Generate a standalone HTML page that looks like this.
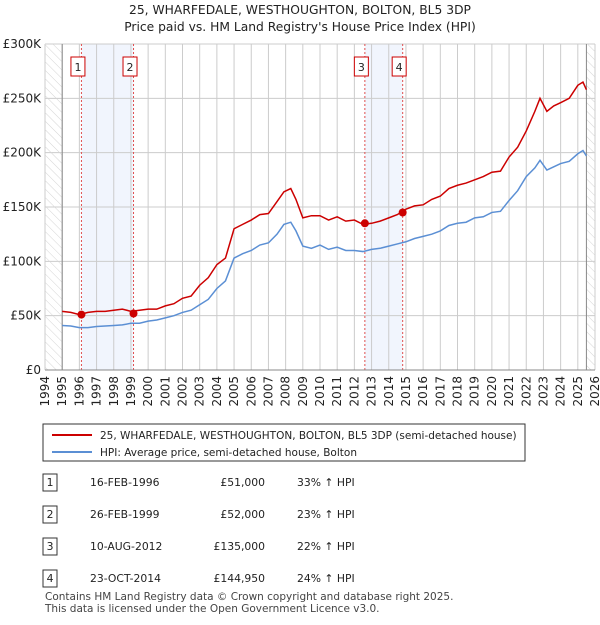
<!DOCTYPE html>
<html><head><meta charset="utf-8"><style>
body{margin:0;background:#fff;font-family:"Liberation Sans","DejaVu Sans",sans-serif;}
svg text{font-family:"DejaVu Sans","Liberation Sans",sans-serif;}
</style></head><body>
<svg id="c" width="600" height="620" xmlns="http://www.w3.org/2000/svg">
<defs><pattern id="h" width="6" height="6" patternUnits="userSpaceOnUse" patternTransform="rotate(-45)"><line x1="0" y1="0" x2="0" y2="6" stroke="#d4d4d4" stroke-width="1"/></pattern></defs>
<text x="300" y="14" text-anchor="middle" font-size="12.3" fill="#222">25, WHARFEDALE, WESTHOUGHTON, BOLTON, BL5 3DP</text>
<text x="300" y="31" text-anchor="middle" font-size="12.3" fill="#222">Price paid vs. HM Land Registry's House Price Index (HPI)</text>
<g id="plot"></g>
<g>
<rect x="43" y="424" width="482" height="37" fill="#fff" stroke="#333"/>
<line x1="52" y1="435" x2="92" y2="435" stroke="#cc0000" stroke-width="2"/>
<text x="100" y="439" font-size="10.5" fill="#222">25, WHARFEDALE, WESTHOUGHTON, BOLTON, BL5 3DP (semi-detached house)</text>
<line x1="52" y1="452" x2="92" y2="452" stroke="#5b8fd4" stroke-width="2"/>
<text x="100" y="456" font-size="10.5" fill="#222">HPI: Average price, semi-detached house, Bolton</text>
</g>
<g id="tbl" font-size="10.8" fill="#222"></g>
<text x="45" y="600" font-size="10.5" fill="#444">Contains HM Land Registry data © Crown copyright and database right 2025.</text>
<text x="45" y="612" font-size="10.5" fill="#444">This data is licensed under the Open Government Licence v3.0.</text>
</svg>
<script>
const hpiYears=[1995,1995.5,1996,1996.5,1997,1997.5,1998,1998.5,1999,1999.5,2000,2000.5,2001,2001.5,2002,2002.5,2003,2003.5,2004,2004.5,2005,2005.5,2006,2006.5,2007,2007.5,2007.9,2008.3,2008.6,2009,2009.5,2010,2010.5,2011,2011.5,2012,2012.5,2013,2013.5,2014,2014.5,2015,2015.5,2016,2016.5,2017,2017.5,2018,2018.5,2019,2019.5,2020,2020.5,2021,2021.5,2022,2022.5,2022.8,2023.2,2023.6,2024,2024.5,2025,2025.3,2025.5];
const hpiValues=[41,40.5,39,39,40,40.5,41,41.5,43,43,45,46,48,50,53,55,60,65,75,82,103,107,110,115,117,125,134,136,128,114,112,115,111,113,110,110,109,111,112,114,116,118,121,123,125,128,133,135,136,140,141,145,146,156,165,178,186,193,184,187,190,192,199,202,197];
const priceValues=[54,53,51,53,54,54,55,56,54,55,56,56,59,61,66,68,78,85,97,103,130,134,138,143,144,155,164,167,157,140,142,142,138,141,137,138,134,135,137,140,143,148,151,152,157,160,167,170,172,175,178,182,183,196,205,220,238,250,238,243,246,250,262,265,258];
const saleYears=[1996.12,1999.15,2012.61,2014.81];
const salePrices=[51000,52000,135000,144950];
const saleDates=["16-FEB-1996","26-FEB-1999","10-AUG-2012","23-OCT-2014"];
const salePriceLabels=["£51,000","£52,000","£135,000","£144,950"];
const salePct=["33% ↑ HPI","23% ↑ HPI","22% ↑ HPI","24% ↑ HPI"];
const yTicks=[0,50000,100000,150000,200000,250000,300000];
const yTickLabels=["£0","£50K","£100K","£150K","£200K","£250K","£300K"];
const xTicks=[1994,1995,1996,1997,1998,1999,2000,2001,2002,2003,2004,2005,2006,2007,2008,2009,2010,2011,2012,2013,2014,2015,2016,2017,2018,2019,2020,2021,2022,2023,2024,2025,2026];

const L=45,R=595,T=44,B=370;
const x=v=>L+(v-1994)/(2026-1994)*(R-L);
const y=v=>B-v/300000*(B-T);
const NS="http://www.w3.org/2000/svg";
const g=document.getElementById('plot');
function el(t,a,p){const e=document.createElementNS(NS,t);for(const k in a)e.setAttribute(k,a[k]);(p||g).appendChild(e);return e;}
for(let i=0;i<4;i+=2){const r=el('rect',{x:x(saleYears[i]),y:T,width:x(saleYears[i+1])-x(saleYears[i]),height:B-T,fill:'#eef3fc',opacity:0.8});

}
xTicks.forEach(t=>{const l=el('line',{x1:x(t),x2:x(t),y1:T,y2:B,stroke:'#ccc','stroke-width':1});


const tx=el('text',{x:0,y:0,'font-size':12,fill:'#222','text-anchor':'end',transform:`translate(${x(t)+4},${B+6}) rotate(-90)`});
tx.textContent=t;

});
yTicks.forEach((t,i)=>{const l=el('line',{x1:L,x2:R,y1:y(t),y2:y(t),stroke:'#ccc','stroke-width':1});


const tx=el('text',{x:L-4,y:y(t)+4,'font-size':12,fill:'#222','text-anchor':'end'});
tx.textContent=yTickLabels[i];

});
const h1=el('rect',{x:L,y:T,width:x(1995)-L,height:B-T,fill:'url(#h)'});


const h2=el('rect',{x:x(2025.5),y:T,width:R-x(2025.5),height:B-T,fill:'url(#h)'});


el('line',{x1:x(1995),x2:x(1995),y1:T,y2:B,stroke:'#888'});
el('line',{x1:x(2025.5),x2:x(2025.5),y1:T,y2:B,stroke:'#888'});
saleYears.forEach((s,i)=>{const l=el('line',{x1:x(s),x2:x(s),y1:T,y2:B,stroke:'#e05050','stroke-dasharray':'2,2'});


const gx=x(s)-10.5;
const r=el('rect',{x:gx,y:57,width:14,height:19,fill:'#fff',stroke:'#cc0000'});


const t=el('text',{x:gx+7,y:71,'font-size':11,'text-anchor':'middle',fill:'#222'});t.textContent=i+1;

});
const pts=(arr)=>arr.map((v,i)=>x(hpiYears[i])+','+y(v*1000)).join(' ');
const hl=el('polyline',{points:pts(hpiValues),fill:'none',stroke:'#5b8fd4','stroke-width':1.5});


const pl=el('polyline',{points:pts(priceValues),fill:'none',stroke:'#cc0000','stroke-width':1.5});


saleYears.forEach((s,i)=>{const c=el('circle',{cx:x(s),cy:y(salePrices[i]),r:4,fill:'#cc0000'});

});
el('line',{x1:L,x2:R,y1:B,y2:B,stroke:'#888'});
const tb=document.getElementById('tbl');
saleDates.forEach((d,i)=>{const yy=482+i*32;
const r=el('rect',{x:43,y:yy-8,width:14,height:17,fill:'#fff',stroke:'#333'},tb);


const n=el('text',{x:50,y:yy+4,'text-anchor':'middle'},tb);n.textContent=i+1;


const a=el('text',{x:90,y:yy+4},tb);a.textContent=d;


const b=el('text',{x:265,y:yy+4,'text-anchor':'end'},tb);b.textContent=salePriceLabels[i];


const c=el('text',{x:297,y:yy+4},tb);c.textContent=salePct[i];

});
</script>
</body></html>
